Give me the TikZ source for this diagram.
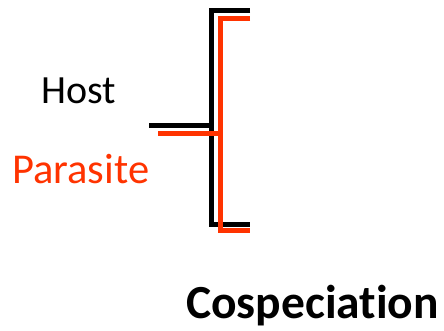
\documentclass[tikz,border=0pt]{standalone}
\usepackage{fontspec}
\setmainfont{Carlito}[Ligatures=NoCommon]
\definecolor{parasitered}{HTML}{FF3300}
\begin{document}
\begin{tikzpicture}[x=1pt,y=-1pt,
  treeline/.style={line width=5pt,line join=miter},
  lbl/.style={anchor=base west,inner sep=0pt,font=\fontsize{40}{48}\selectfont}]
\useasboundingbox (0,0) rectangle (444,330);
% host tree (black)
\coordinate (hroot) at (149,125);
\coordinate (hfork) at (211,125);
\coordinate (htop) at (250,10);
\coordinate (hbot) at (250,224);
\draw[treeline,black] (hroot) -- (hfork);
\draw[treeline,black] (htop) -| (hfork) |- (hbot);
% parasite tree (red)
\coordinate (proot) at (158,133);
\coordinate (pfork) at (220,133);
\coordinate (ptop) at (250,18);
\coordinate (pbot) at (250,230);
\draw[treeline,parasitered] (proot) -- (pfork);
\draw[treeline,parasitered] (ptop) -| (pfork) |- (pbot);
% labels
\node[lbl] (host) at (41,103) {Host};
\node[lbl,text=parasitered,font=\fontsize{42.5}{50}\selectfont] (parasite) at (12,183) {Parasite};
\node[lbl,font=\fontsize{47.5}{57}\selectfont\bfseries] (title) at (186,318) {Cospeciation};
\end{tikzpicture}
\end{document}
